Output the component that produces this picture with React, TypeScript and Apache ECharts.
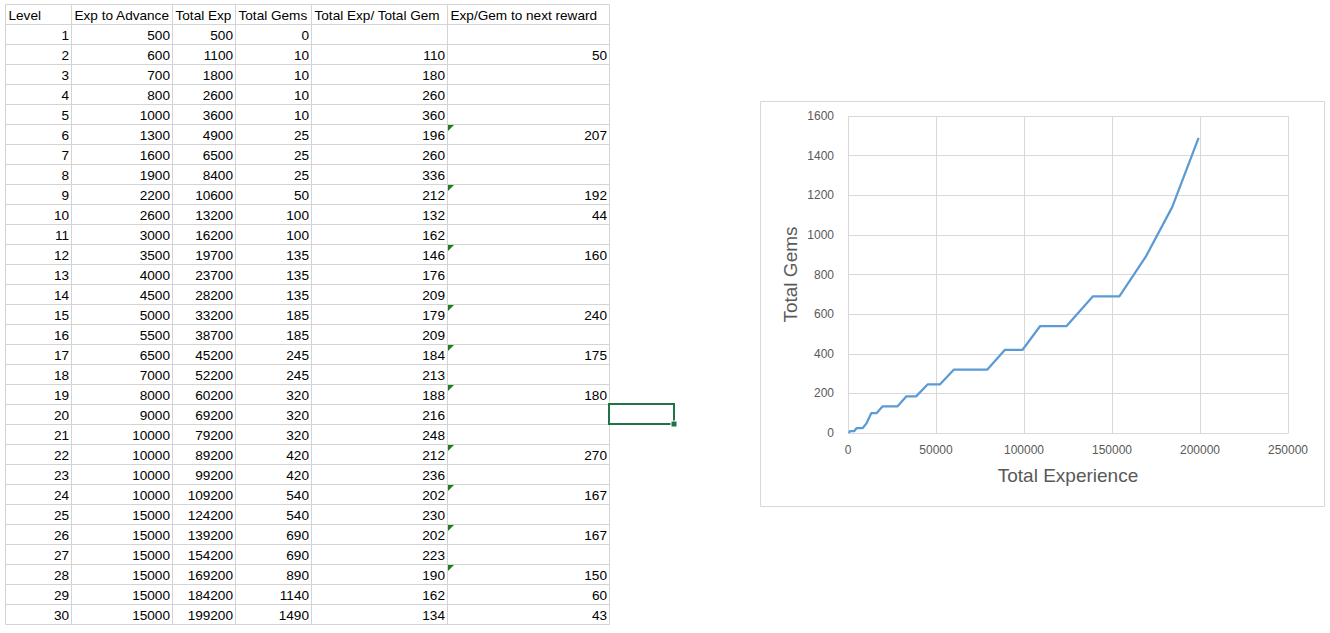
import React, { useEffect, useRef } from "react";
import * as echarts from "echarts";

const headers = ["Level", "Exp to Advance", "Total Exp", "Total Gems", "Total Exp/ Total Gem", "Exp/Gem to next reward"];
const levels = [1, 2, 3, 4, 5, 6, 7, 8, 9, 10, 11, 12, 13, 14, 15, 16, 17, 18, 19, 20, 21, 22, 23, 24, 25, 26, 27, 28, 29, 30];
const expToAdvance = [500, 600, 700, 800, 1000, 1300, 1600, 1900, 2200, 2600, 3000, 3500, 4000, 4500, 5000, 5500, 6500, 7000, 8000, 9000, 10000, 10000, 10000, 10000, 15000, 15000, 15000, 15000, 15000, 15000];
const totalExp = [500, 1100, 1800, 2600, 3600, 4900, 6500, 8400, 10600, 13200, 16200, 19700, 23700, 28200, 33200, 38700, 45200, 52200, 60200, 69200, 79200, 89200, 99200, 109200, 124200, 139200, 154200, 169200, 184200, 199200];
const totalGems = [0, 10, 10, 10, 10, 25, 25, 25, 50, 100, 100, 135, 135, 135, 185, 185, 245, 245, 320, 320, 320, 420, 420, 540, 540, 690, 690, 890, 1140, 1490];
const expPerGem: (number | null)[] = [null, 110, 180, 260, 360, 196, 260, 336, 212, 132, 162, 146, 176, 209, 179, 209, 184, 213, 188, 216, 248, 212, 236, 202, 230, 202, 223, 190, 162, 134];
const expPerGemNext: (number | null)[] = [null, 50, null, null, null, 207, null, null, 192, 44, null, 160, null, null, 240, null, 175, null, 180, null, null, 270, null, 167, null, 167, null, 150, 60, 43];
const flaggedLevels = [6, 9, 12, 15, 17, 19, 22, 24, 26, 28];

const xTicks = { min: 0, max: 250000, interval: 50000 };
const yTicks = { min: 0, max: 1600, interval: 200 };

export default function App() {
  const ref = useRef<HTMLDivElement>(null);

  useEffect(() => {
    document.body.style.margin = "0";
    const chart = echarts.init(ref.current!, null, { renderer: "svg" });

    const colEdges = [5.5, 71.5, 172.5, 235.5, 311.5, 447.5, 609.5];
    const tableTop = 4.5;
    const headerH = 20;
    const rowH = 20;
    const nRows = levels.length;
    const tableBottom = tableTop + headerH + rowH * nRows;
    const gridColor = "#D4D4D4";
    const font = "Liberation Sans, Arial, sans-serif";
    const cellFont = `13.6px ${font}`;

    const g: any[] = [];
    for (let i = 0; i <= nRows + 1; i++) {
      const y = i === 0 ? tableTop : tableTop + headerH + rowH * (i - 1);
      g.push({
        type: "line",
        silent: true,
        shape: { x1: colEdges[0], y1: y, x2: colEdges[colEdges.length - 1], y2: y },
        style: { stroke: gridColor, lineWidth: 1 },
      });
    }
    colEdges.forEach((x) => {
      g.push({
        type: "line",
        silent: true,
        shape: { x1: x, y1: tableTop, x2: x, y2: tableBottom },
        style: { stroke: gridColor, lineWidth: 1 },
      });
    });
    headers.forEach((h, c) => {
      g.push({
        type: "text",
        silent: true,
        style: {
          text: h,
          x: colEdges[c] + 3,
          y: tableTop + headerH / 2 + 1,
          align: "left",
          verticalAlign: "middle",
          fill: "#000",
          font: cellFont,
        },
      });
    });
    const cols = [levels, expToAdvance, totalExp, totalGems, expPerGem, expPerGemNext];
    for (let r = 0; r < nRows; r++) {
      const yMid = tableTop + headerH + rowH * r + rowH / 2 + 1;
      cols.forEach((col, c) => {
        const v = col[r];
        if (v === null || v === undefined) return;
        g.push({
          type: "text",
          silent: true,
          style: {
            text: String(v),
            x: colEdges[c + 1] - 2.5,
            y: yMid,
            align: "right",
            verticalAlign: "middle",
            fill: "#000",
            font: cellFont,
          },
        });
      });
    }
    flaggedLevels.forEach((lv) => {
      const r = levels.indexOf(lv);
      const top = tableTop + headerH + rowH * r + 0.5;
      const left = colEdges[5] + 0.5;
      g.push({
        type: "polygon",
        silent: true,
        shape: { points: [[left, top], [left + 6, top], [left, top + 6]] },
        style: { fill: "#1E7B1E" },
      });
    });
    g.push({
      type: "rect",
      silent: true,
      shape: { x: 609, y: 404, width: 65, height: 20 },
      style: { fill: "none", stroke: "#217346", lineWidth: 2 },
    });
    g.push({
      type: "rect",
      silent: true,
      shape: { x: 671, y: 421, width: 6, height: 6 },
      style: { fill: "#217346", stroke: "#fff", lineWidth: 1 },
    });
    g.push({
      type: "rect",
      silent: true,
      z: -1,
      shape: { x: 760.5, y: 101.5, width: 564, height: 405 },
      style: { fill: "none", stroke: "#D9D9D9", lineWidth: 1 },
    });

    const lineData = totalExp.map((x, i) => [x, totalGems[i]]);
    const axisLabel = {
      color: "#595959",
      fontSize: 12,
      fontFamily: font,
      formatter: (v: number) => String(v),
    };

    chart.setOption({
      animation: false,
      backgroundColor: "#fff",
      graphic: g,
      grid: { left: 848, top: 116, width: 440, height: 317, containLabel: false },
      xAxis: {
        type: "value",
        min: xTicks.min,
        max: xTicks.max,
        interval: xTicks.interval,
        name: "Total Experience",
        nameLocation: "middle",
        nameGap: 33,
        nameTextStyle: { color: "#595959", fontSize: 19, fontFamily: font },
        axisLine: { show: true, lineStyle: { color: "#D9D9D9" } },
        axisTick: { show: false },
        axisLabel: { ...axisLabel, margin: 11 },
        splitLine: { show: true, lineStyle: { color: "#D9D9D9" } },
      },
      yAxis: {
        type: "value",
        min: yTicks.min,
        max: yTicks.max,
        interval: yTicks.interval,
        name: "Total Gems",
        nameLocation: "middle",
        nameRotate: 90,
        nameGap: 48,
        nameTextStyle: { color: "#595959", fontSize: 19, fontFamily: font },
        axisLine: { show: false },
        axisTick: { show: false },
        axisLabel: { ...axisLabel, margin: 14 },
        splitLine: { show: true, lineStyle: { color: "#D9D9D9" } },
      },
      series: [
        {
          type: "line",
          data: lineData,
          showSymbol: false,
          symbol: "none",
          lineStyle: { color: "#5B9BD5", width: 2.25 },
        },
      ],
    });

    return () => chart.dispose();
  }, []);

  return <div ref={ref} style={{ position: "fixed", left: 0, top: 0, width: 1330, height: 633 }} />;
}
